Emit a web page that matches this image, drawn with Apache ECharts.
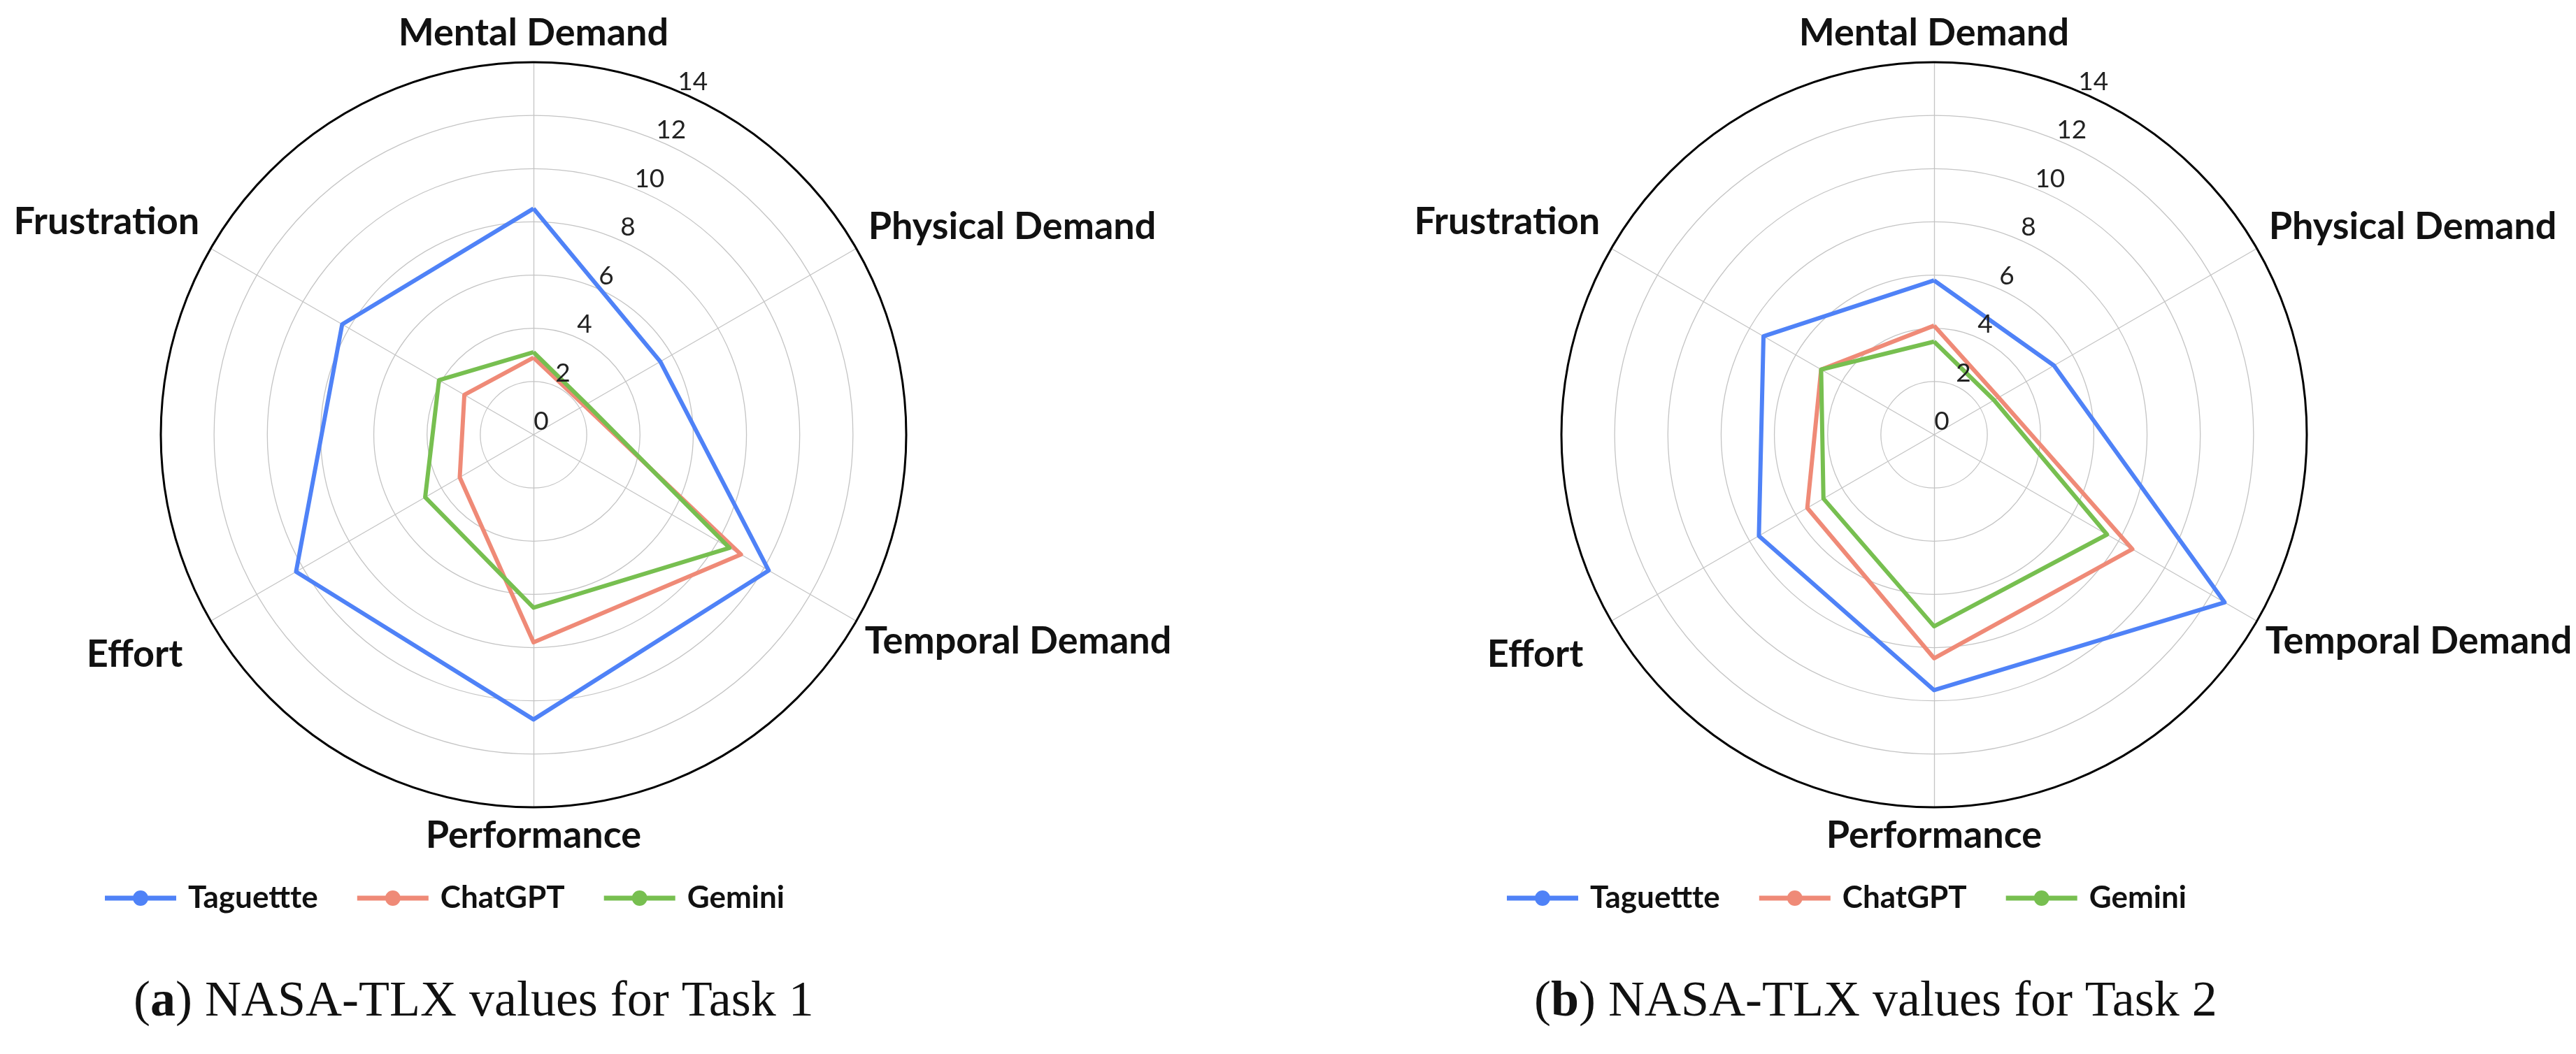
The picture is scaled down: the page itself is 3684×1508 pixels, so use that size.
<!DOCTYPE html>
<html>
<head>
<meta charset="utf-8">
<script src="https://cdn.jsdelivr.net/npm/echarts@6/dist/echarts.min.js"></script>
<style>
html,body{margin:0;padding:0;background:#fff;}
#chart{width:3684px;height:1508px;}
</style>
</head>
<body>
<div id="chart"></div>
<script>
// ---- data ----
const dimensions = ['Mental Demand', 'Physical Demand', 'Temporal Demand', 'Performance', 'Effort', 'Frustration'];
const seriesNames = ['Taguettte', 'ChatGPT', 'Gemini'];
const radialTicks = [0, 2, 4, 6, 8, 10, 12, 14];
const task1Taguettte = [8.5, 5.5, 10.2, 10.7, 10.3, 8.3];
const task1ChatGPT   = [2.9, 2.2, 9.0, 7.8, 3.2, 3.0];
const task1Gemini    = [3.1, 2.3, 8.5, 6.5, 4.7, 4.1];
const task2Taguettte = [5.8, 5.2, 12.6, 9.6, 7.6, 7.4];
const task2ChatGPT   = [4.1, 2.8, 8.6, 8.4, 5.5, 4.9];
const task2Gemini    = [3.5, 2.6, 7.5, 7.2, 4.8, 4.9];
const captions = ['NASA-TLX values for Task 1', 'NASA-TLX values for Task 2'];
const captionLetters = ['a', 'b'];

// ---- build ----
const colors = ['#4f82f7', '#ef8a77', '#77bf50'];
const axisMax = radialTicks[radialTicks.length - 1];
// ECharts places indicators counter-clockwise; reorder to get clockwise layout
const order = [0, 5, 4, 3, 2, 1];
const reorder = arr => order.map(i => arr[i]);
const indicator = order.map(i => ({ name: dimensions[i], min: 0, max: axisMax }));

const centers = [[763, 622], [2766, 622]];
const R = 533;
const tasks = [
  [task1Taguettte, task1ChatGPT, task1Gemini],
  [task2Taguettte, task2ChatGPT, task2Gemini]
];

const nameFont = { color: '#111', fontFamily: 'Lato', fontWeight: 'bold', fontSize: 54 };
// per-label nudges (text-box padding) so the names sit where they do in the figure
const namePad = {
  'Mental Demand': [0, 0, 0, 0],
  'Physical Demand': [0, 0, 47, 5],
  'Temporal Demand': [45, 0, 0, 0],
  'Performance': [0, 0, 0, 0],
  'Effort': [83, 28, 0, 0],
  'Frustration': [0, 4, 61, 0]
};
const richNames = {};
dimensions.forEach((d, i) => {
  richNames['n' + i] = Object.assign({}, nameFont, { padding: namePad[d] });
});

const radar = centers.map(c => ({
  center: c,
  radius: R,
  shape: 'circle',
  startAngle: 90,
  splitNumber: radialTicks.length - 1,
  indicator: indicator,
  axisName: Object.assign({}, nameFont, {
    formatter: name => '{n' + dimensions.indexOf(name) + '|' + name + '}',
    rich: richNames
  }),
  nameGap: 14,
  axisLine: { lineStyle: { color: '#c4c4c4', width: 1.3 } },
  splitLine: { lineStyle: { color: '#c4c4c4', width: 1.3 } },
  splitArea: { show: false },
  axisTick: { show: false },
  axisLabel: { show: false }
}));

const polar = centers.map(c => ({ center: c, radius: R }));
const angleAxis = centers.map((c, k) => ({
  polarIndex: k,
  type: 'value',
  min: 0, max: 360,
  startAngle: 66,
  z: 5,
  axisLine: { show: true, lineStyle: { color: '#000', width: 3 } },
  axisTick: { show: false },
  axisLabel: { show: false },
  splitLine: { show: false }
}));
const radiusAxis = centers.map((c, k) => ({
  polarIndex: k,
  type: 'value',
  min: radialTicks[0],
  max: axisMax,
  interval: radialTicks[1] - radialTicks[0],
  z: 5,
  axisLine: { show: false },
  axisTick: { show: false },
  splitLine: { show: false },
  axisLabel: {
    show: true,
    color: '#222',
    fontFamily: 'Lato',
    fontSize: 37,
    margin: 0,
    align: 'center',
    verticalAlign: 'bottom',
    padding: [0, 0, 0, 22]
  }
}));

const series = [];
tasks.forEach((vals, k) => {
  series.push({
    type: 'radar',
    radarIndex: k,
    symbol: 'none',
    data: vals.map((v, j) => ({
      name: seriesNames[j],
      value: reorder(v),
      lineStyle: { color: colors[j], width: 6 },
      itemStyle: { color: colors[j] }
    }))
  });
});

const legendIcon = 'path://M0,10.5L102,10.5L102,17.5L0,17.5Z M51,3 A11,11 0 1 1 51,25 A11,11 0 1 1 51,3Z M0,3L0.01,3L0.01,25L0,25Z';
const legend = [145, 2150].map(x => ({
  left: x,
  top: 1258,
  orient: 'horizontal',
  data: seriesNames.map((n, j) => ({ name: n, icon: legendIcon, itemStyle: { color: colors[j] } })),
  itemWidth: 102,
  itemHeight: 28,
  itemGap: 56,
  selectedMode: false,
  textStyle: {
    color: '#111',
    fontFamily: 'Lato',
    fontWeight: 'bold',
    fontSize: 44,
    padding: [0, 0, 0, 12]
  }
}));

const graphic = [191, 2194].map((x, k) => ({
  type: 'text',
  left: x,
  top: 1398,
  style: {
    text: '({b|' + captionLetters[k] + '}) ' + captions[k],
    fontFamily: 'Liberation Serif',
    fontSize: 72,
    fill: '#111',
    rich: { b: { fontFamily: 'Liberation Serif', fontWeight: 'bold', fontSize: 72, fill: '#111' } }
  }
}));

const chart = echarts.init(document.getElementById('chart'));
chart.setOption({
  backgroundColor: '#fff',
  animation: false,
  color: colors,
  legend: legend,
  radar: radar,
  polar: polar,
  angleAxis: angleAxis,
  radiusAxis: radiusAxis,
  series: series,
  graphic: graphic
});
</script>
</body>
</html>
